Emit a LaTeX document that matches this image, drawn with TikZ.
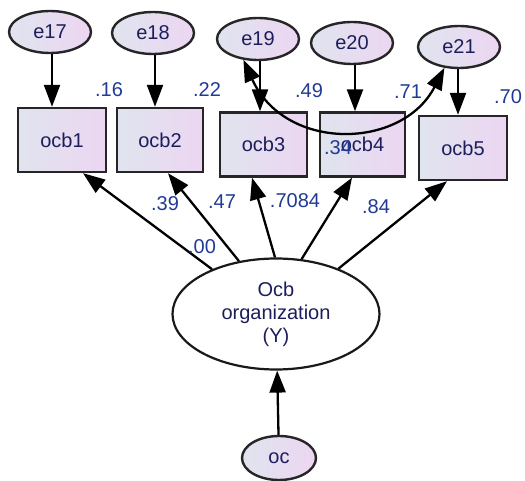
\documentclass[tikz,border=0pt]{standalone}
\usepackage{fontspec}
\setmainfont{Liberation Sans}
\usetikzlibrary{arrows.meta,shapes.geometric}
\definecolor{fillL}{RGB}{224,228,238}
\definecolor{fillR}{RGB}{236,214,242}
\definecolor{nodetext}{RGB}{28,30,92}
\definecolor{labeltext}{RGB}{32,58,150}
\begin{document}
\begin{tikzpicture}[x=1pt,y=-1pt,
  every node/.style={font=\fontsize{20}{24}\selectfont},
  obs/.style={draw=black!85, line width=2.4pt, rectangle, inner sep=0pt,
    minimum height=64pt, left color=fillL, right color=fillR, text=nodetext},
  err/.style={draw=black!85, line width=2.4pt, ellipse, inner sep=0pt,
    minimum width=82pt, minimum height=42pt, left color=fillL, right color=fillR, text=nodetext},
  lat/.style={draw=black!90, line width=2.2pt, ellipse, inner sep=0pt,
    minimum width=207pt, minimum height=111pt, fill=white, text=nodetext, align=center},
  arr/.style={line width=2.3pt, -{Triangle[length=22pt,width=16pt]}},
  darr/.style={line width=2.3pt, {Triangle[length=22pt,width=16pt]}-{Triangle[length=22pt,width=16pt]}},
  lbl/.style={text=labeltext, inner sep=0pt}]
\useasboundingbox (0,0) rectangle (525,481);

% observed indicators
\node[obs, minimum width=88pt] (ocb1) at (62,140) {ocb1};
\node[obs, minimum width=86pt] (ocb2) at (160,140) {ocb2};
\node[obs, minimum width=87pt] (ocb3) at (263.5,144.5) {ocb3};
\node[obs, minimum width=85pt] (ocb4) at (362.5,144.5) {ocb4};
\node[obs, minimum width=88pt] (ocb5) at (463,148) {ocb5};

% error terms
\node[err] (e17) at (50,32) {e17};
\node[err] (e18) at (153,33) {e18};
\node[err] (e19) at (258,39) {e19};
\node[err] (e20) at (352,43) {e20};
\node[err] (e21) at (459,47) {e21};

% latent factor and its predictor
\node[lat] (Y) at (276,314) {Ocb\\[-1pt]organization\\[-1pt](Y)};
\node[err, minimum width=74pt, minimum height=44pt] (oc) at (279,458) {oc};

% error paths
\draw[arr] ([xshift=2pt]e17.south) -- ([xshift=-10pt]ocb1.north);
\draw[arr] ([xshift=2pt]e18.south) -- ([xshift=-5pt]ocb2.north);
\draw[arr] ([xshift=2pt]e19.south) -- ([xshift=-3.5pt]ocb3.north);
\draw[arr] ([xshift=3pt]e20.south) -- ([xshift=-7.5pt]ocb4.north);
\draw[arr] ([xshift=-1pt]e21.south) -- ([xshift=-5pt]ocb5.north);

% loadings
\draw[arr] (Y.145) -- ([xshift=21pt]ocb1.south);
\draw[arr] (Y.125) -- ([xshift=8pt]ocb2.south);
\draw[arr] (Y.91) -- ([xshift=-11.5pt]ocb3.south);
\draw[arr] (Y.65) -- ([xshift=-10.5pt]ocb4.south);
\draw[arr] (Y.36) -- ([xshift=-16pt]ocb5.south);

% structural path
\draw[arr] (oc) -- (Y);

% error covariance
\draw[darr] (e19.235) .. controls (285,152) and (402,150) .. (e21.235);

% estimates
\node[lbl] (r1) at (109,90) {.16};
\node[lbl] (r2) at (207,90) {.22};
\node[lbl] (r3) at (309,91) {.49};
\node[lbl] (r4) at (408,92) {.71};
\node[lbl] (r5) at (508,97) {.70};
\node[lbl] (c1) at (338,148) {.34};
\node[lbl] (l1) at (202,247) {.00};
\node[lbl] (l2) at (165,204) {.39};
\node[lbl] (l3) at (222,202) {.47};
\node[lbl] (l4) at (295,201) {.7084};
\node[lbl] (l5) at (376,207) {.84};
\end{tikzpicture}
\end{document}
